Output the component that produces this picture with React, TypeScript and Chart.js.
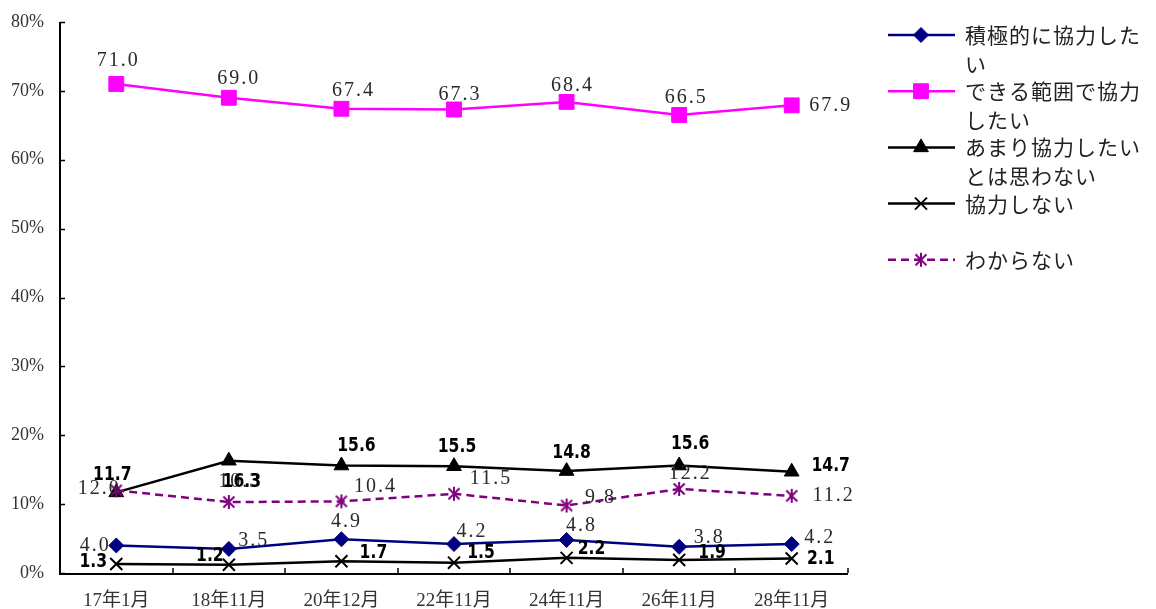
import React, { useEffect, useRef } from 'react';
import { Chart, registerables } from 'chart.js';
import { drawPoint } from 'chart.js/helpers';

Chart.register(...registerables);

// ---------- data ----------
const categories = ['17年1月', '18年11月', '20年12月', '22年11月', '24年11月', '26年11月', '28年11月'];
const seriesNames = [
  '積極的に協力したい',
  'できる範囲で協力したい',
  'あまり協力したいとは思わない',
  '協力しない',
  'わからない',
];
const activeValues = [4.0, 3.5, 4.9, 4.2, 4.8, 3.8, 4.2];
const withinRangeValues = [71.0, 69.0, 67.4, 67.3, 68.4, 66.5, 67.9];
const reluctantValues = [11.7, 16.3, 15.6, 15.5, 14.8, 15.6, 14.7];
const refuseValues = [1.3, 1.2, 1.7, 1.5, 2.2, 1.9, 2.1];
const unknownValues = [12.0, 10.3, 10.4, 11.5, 9.8, 12.2, 11.2];
const yTickValues = [0, 10, 20, 30, 40, 50, 60, 70, 80];

// ---------- label placement (offsets from each point, in px) ----------
const activeLabelOffsets = [[-22, 0], [24, -8], [4, -18], [17, -12], [14, -14], [29, -9], [27, -6]];
const withinLabelOffsets = [[1, -23], [9, -19], [11, -18], [5, -15], [5, -16], [6, -17], [38, 0]];
const reluctantLabelOffsets = [[-5, -18], [12, 21], [14, -20], [2, -19], [4, -18], [10, -22], [38, -6]];
const refuseLabelOffsets = [[-24, -2], [-20, -9], [31, -8], [26, -10], [24, -9], [32, -7], [28, 0]];
const unknownLabelOffsets = [[-18, -2], [10, -20], [33, -15], [36, -15], [33, -8], [10, -15], [41, 0]];

const SERIF = "'Liberation Serif', 'Noto Sans CJK JP', serif";
const BOLD = "'DejaVu Sans', sans-serif";
const JP = "'Noto Sans CJK JP', sans-serif";

function makeAsterisk(color: string) {
  const c = document.createElement('canvas');
  c.width = 16;
  c.height = 16;
  const g = c.getContext('2d')!;
  g.strokeStyle = color;
  g.lineWidth = 2;
  g.beginPath();
  g.moveTo(2.5, 2.5); g.lineTo(13.5, 13.5);
  g.moveTo(13.5, 2.5); g.lineTo(2.5, 13.5);
  g.moveTo(8, 1); g.lineTo(8, 15);
  g.stroke();
  return c;
}

export default function App() {
  const ref = useRef<HTMLCanvasElement | null>(null);

  useEffect(() => {
    document.body.style.margin = '0';
    const canvas = ref.current!;
    const asterisk = makeAsterisk('#800080');

    const labelOffsets = [activeLabelOffsets, withinLabelOffsets, reluctantLabelOffsets, refuseLabelOffsets, unknownLabelOffsets];
    const labelBold = [false, false, true, true, false];

    const axesPlugin = {
      id: 'axesPlugin',
      afterDatasetsDraw(chart: any) {
        const { ctx, chartArea } = chart;
        const xs = chart.scales.x;
        const ys = chart.scales.y;
        ctx.save();
        ctx.strokeStyle = '#000';
        ctx.lineWidth = 2;
        ctx.beginPath();
        ctx.moveTo(chartArea.left, chartArea.top);
        ctx.lineTo(chartArea.left, chartArea.bottom + 1);
        ctx.lineTo(chartArea.right, chartArea.bottom + 1);
        ctx.stroke();
        ctx.lineWidth = 1.5;
        ctx.beginPath();
        yTickValues.forEach((v) => {
          const y = Math.round(ys.getPixelForValue(v)) + 0.5;
          ctx.moveTo(chartArea.left, y);
          ctx.lineTo(chartArea.left + 5, y);
        });
        const step = xs.getPixelForValue(1) - xs.getPixelForValue(0);
        for (let i = 0; i < categories.length; i++) {
          const x = Math.round(xs.getPixelForValue(i) + step / 2);
          ctx.moveTo(x, chartArea.bottom);
          ctx.lineTo(x, chartArea.bottom - 5);
        }
        ctx.stroke();
        ctx.restore();
      },
    };

    const labelsPlugin = {
      id: 'labelsPlugin',
      afterDraw(chart: any) {
        const ctx = chart.ctx;
        [0, 1, 4, 2, 3].forEach((di) => {
          const meta = chart.getDatasetMeta(di);
          const ds = chart.data.datasets[di];
          meta.data.forEach((pt: any, i: number) => {
            const [dx, dy] = labelOffsets[di][i];
            const txt = Number(ds.data[i]).toFixed(1);
            ctx.save();
            ctx.textAlign = 'center';
            ctx.textBaseline = 'middle';
            if (labelBold[di]) {
              ctx.font = `bold 20px ${BOLD}`;
              (ctx as any).letterSpacing = '0px';
              ctx.fillStyle = '#000';
              ctx.translate(pt.x + dx + 1, pt.y + dy);
              ctx.scale(0.78, 1);
              ctx.fillText(txt, 0, 0);
            } else {
              ctx.font = `20px ${SERIF}`;
              (ctx as any).letterSpacing = '2px';
              ctx.fillStyle = '#2a2a2a';
              ctx.fillText(txt, pt.x + dx + 1, pt.y + dy);
            }
            ctx.restore();
          });
        });
      },
    };

    const legendPlugin = {
      id: 'legendPlugin',
      afterDraw(chart: any) {
        const ctx = chart.ctx;
        ctx.save();
        const x0 = 888, x1 = 955, xm = 921, tx = 965, maxW = 1156 - 965;
        const startY = 35, stepY = 56.2, lineH = 29;
        chart.data.datasets.forEach((ds: any, di: number) => {
          const y = startY + di * stepY;
          ctx.strokeStyle = ds.borderColor;
          ctx.lineWidth = 2.5;
          ctx.setLineDash(ds.borderDash || []);
          ctx.beginPath();
          ctx.moveTo(x0, y);
          ctx.lineTo(x1, y);
          ctx.stroke();
          ctx.setLineDash([]);
          ctx.strokeStyle = ds.pointBorderColor;
          ctx.lineWidth = ds.pointBorderWidth;
          ctx.fillStyle = ds.pointBackgroundColor;
          drawPoint(ctx, { pointStyle: ds.pointStyle, radius: ds.pointRadius, rotation: 0, borderWidth: ds.pointBorderWidth }, xm, y);
          ctx.font = `21px ${JP}`;
          (ctx as any).letterSpacing = '1px';
          ctx.fillStyle = '#222';
          ctx.textAlign = 'left';
          ctx.textBaseline = 'middle';
          const chars = Array.from(String(ds.label));
          const lines: string[] = [];
          let cur = '';
          chars.forEach((ch) => {
            if (ctx.measureText(cur + ch).width > maxW && cur) {
              lines.push(cur);
              cur = ch;
            } else cur += ch;
          });
          if (cur) lines.push(cur);
          lines.forEach((ln, li) => ctx.fillText(ln, tx, y + li * lineH));
        });
        ctx.restore();
      },
    };

    const chart = new Chart(canvas, {
      type: 'line',
      data: {
        labels: categories,
        datasets: [
          {
            label: seriesNames[0], data: activeValues, borderColor: '#000080', borderWidth: 2.5,
            pointStyle: 'rectRot', pointRadius: 7.5, pointBackgroundColor: '#000080', pointBorderColor: '#000080', pointBorderWidth: 1,
            order: 5, tension: 0,
          },
          {
            label: seriesNames[1], data: withinRangeValues, borderColor: '#FF00FF', borderWidth: 2.5,
            pointStyle: 'rect', pointRadius: 10.5, pointBackgroundColor: '#FF00FF', pointBorderColor: '#FF00FF', pointBorderWidth: 1,
            order: 4, tension: 0,
          },
          {
            label: seriesNames[2], data: reluctantValues, borderColor: '#000000', borderWidth: 2.5,
            pointStyle: 'triangle', pointRadius: 8.5, pointBackgroundColor: '#000000', pointBorderColor: '#000000', pointBorderWidth: 1,
            order: 3, tension: 0,
          },
          {
            label: seriesNames[3], data: refuseValues, borderColor: '#000000', borderWidth: 2.5,
            pointStyle: 'crossRot', pointRadius: 8.5, pointBackgroundColor: '#000000', pointBorderColor: '#000000', pointBorderWidth: 2,
            order: 2, tension: 0,
          },
          {
            label: seriesNames[4], data: unknownValues, borderColor: '#800080', borderWidth: 2.5, borderDash: [8, 5],
            pointStyle: asterisk as any, pointRadius: 8, pointBackgroundColor: '#800080', pointBorderColor: '#800080', pointBorderWidth: 2,
            order: 1, tension: 0,
          },
        ],
      },
      options: {
        responsive: false,
        animation: false,
        layout: { padding: { top: 22, right: 308, left: 0, bottom: 0 } },
        plugins: { legend: { display: false }, tooltip: { enabled: false } },
        scales: {
          x: {
            type: 'category',
            offset: true,
            grid: { display: false, drawTicks: false },
            border: { display: false },
            ticks: { color: '#333', font: { family: SERIF, size: 19 }, padding: 17, maxRotation: 0, autoSkip: false },
            afterFit: (s: any) => { s.height = 36; s.paddingLeft = 0; s.paddingRight = 0; },
          },
          y: {
            min: 0,
            max: 80,
            grid: { display: false, drawTicks: false },
            border: { display: false },
            ticks: {
              stepSize: 10,
              color: '#333',
              font: { family: SERIF, size: 18 },
              padding: 16,
              callback: (v: any) => `${v}%`,
            },
            afterFit: (s: any) => { s.width = 60; s.paddingTop = 0; s.paddingBottom = 0; },
          },
        },
      },
      plugins: [axesPlugin, labelsPlugin, legendPlugin],
    });

    return () => chart.destroy();
  }, []);

  return (
    <div style={{ width: 1156, height: 609, background: '#fff' }}>
      <canvas ref={ref} width={1156} height={609} />
    </div>
  );
}
